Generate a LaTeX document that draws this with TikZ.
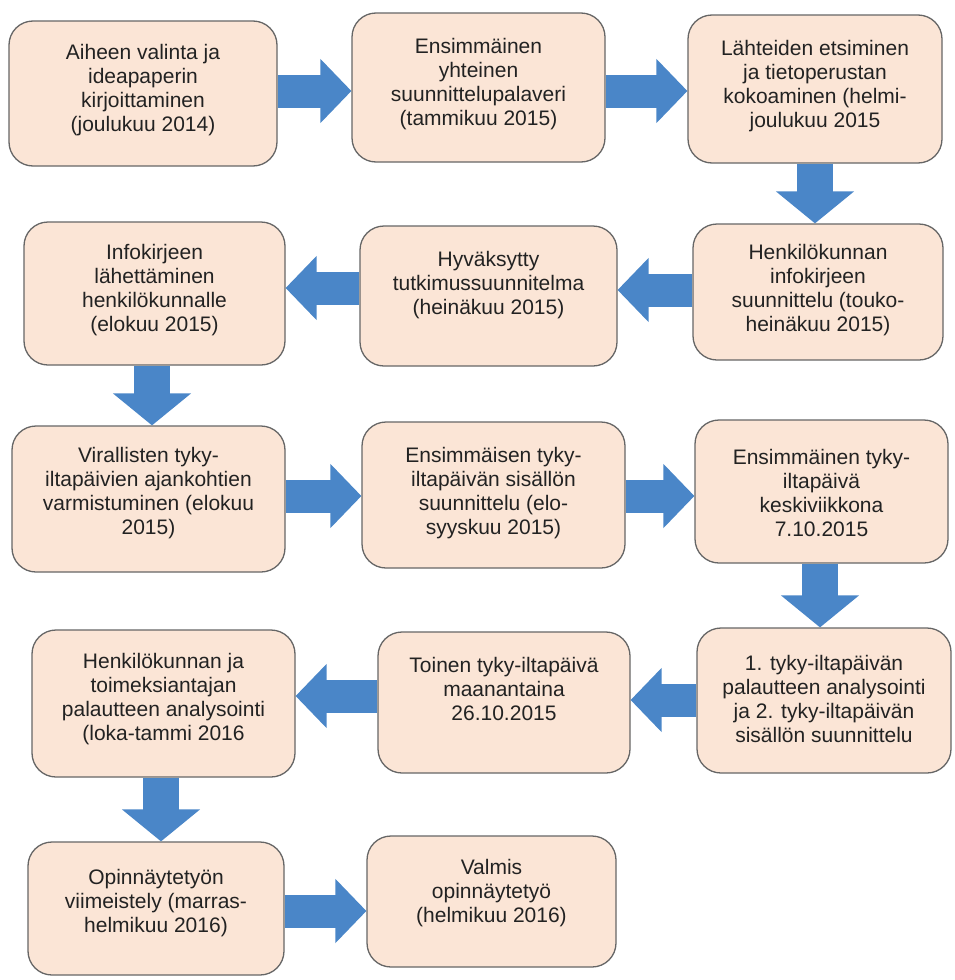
\documentclass[tikz,border=0pt]{standalone}
\usepackage{fontspec}
\setmainfont{Liberation Sans}
\usetikzlibrary{arrows.meta}
\definecolor{boxfill}{HTML}{FBE5D6}
\definecolor{boxline}{HTML}{666666}
\definecolor{arrowblue}{HTML}{4A86C8}
\definecolor{txt}{HTML}{222222}
\begin{document}
\begin{tikzpicture}[x=1pt,y=-1pt,
  box/.style={draw=boxline, fill=boxfill, line width=1.3pt, rounded corners=24pt, inner sep=0pt},
  boxtext/.style={align=center, text=txt, font=\fontsize{21}{24}\selectfont, inner sep=0pt},
  harrow/.style={draw=arrowblue, line width=33pt, -{Triangle[length=31pt,width=64pt,line width=1.5pt]}},
  varrow/.style={draw=arrowblue, line width=36pt, -{Triangle[length=32pt,width=78pt,line width=1.5pt]}}]
\fill[white] (0,0) rectangle (954,980);
\useasboundingbox (0,0) rectangle (954,980);

% boxes
\node[box, minimum width=268pt, minimum height=145pt] (A) at (143,93.5) {};
\node[box, minimum width=253pt, minimum height=149pt] (B) at (478.5,87.5) {};
\node[box, minimum width=254pt, minimum height=148pt] (C) at (815,89) {};
\node[box, minimum width=261pt, minimum height=143pt] (D) at (154.5,293.5) {};
\node[box, minimum width=257pt, minimum height=140pt] (E) at (488.5,296) {};
\node[box, minimum width=250pt, minimum height=136pt] (F) at (818,292) {};
\node[box, minimum width=273pt, minimum height=146pt] (G) at (148.5,499) {};
\node[box, minimum width=263pt, minimum height=146pt] (H) at (493.5,495) {};
\node[box, minimum width=253pt, minimum height=143pt] (I) at (821.5,491.5) {};
\node[box, minimum width=263pt, minimum height=147pt] (J) at (163.5,703.5) {};
\node[box, minimum width=252pt, minimum height=141pt] (K) at (504,702.5) {};
\node[box, minimum width=254pt, minimum height=145pt] (L) at (824,700.5) {};
\node[box, minimum width=256pt, minimum height=133pt] (M) at (156,908.5) {};
\node[box, minimum width=249pt, minimum height=131pt] (N) at (491.5,901.5) {};

% texts
\node[boxtext] (At) at (143,90) {Aiheen valinta ja\\ideapaperin\\kirjoittaminen\\(joulukuu 2014)};
\node[boxtext] (Bt) at (478.5,84) {Ensimmäinen\\yhteinen\\suunnittelupalaveri\\(tammikuu 2015)};
\node[boxtext] (Ct) at (815,86) {Lähteiden etsiminen\\ja tietoperustan\\kokoaminen (helmi-\\joulukuu 2015};
\node[boxtext] (Dt) at (154.5,290) {Infokirjeen\\lähettäminen\\henkilökunnalle\\(elokuu 2015)};
\node[boxtext] (Et) at (488.5,285) {Hyväksytty\\tutkimussuunnitelma\\(heinäkuu 2015)};
\node[boxtext] (Ft) at (818,290) {Henkilökunnan\\infokirjeen\\suunnittelu (touko-\\heinäkuu 2015)};
\node[boxtext] (Gt) at (148.5,493) {Virallisten tyky-\\iltapäivien ajankohtien\\varmistuminen (elokuu\\2015)};
\node[boxtext] (Ht) at (493.5,493) {Ensimmäisen tyky-\\iltapäivän sisällön\\suunnittelu (elo-\\syyskuu 2015)};
\node[boxtext] (It) at (821.5,493) {Ensimmäinen tyky-\\iltapäivä\\keskiviikkona\\7.10.2015};
\node[boxtext] (Jt) at (163.5,699) {Henkilökunnan ja\\toimeksiantajan\\palautteen analysointi\\(loka-tammi 2016};
\node[boxtext] (Kt) at (504,689) {Toinen tyky-iltapäivä\\maanantaina\\26.10.2015};
\node[boxtext] (Lt) at (824,699) {1. tyky-iltapäivän\\palautteen analysointi\\ja 2. tyky-iltapäivän\\sisällön suunnittelu};
\node[boxtext] (Mt) at (156,903) {Opinnäytetyön\\viimeistely (marras-\\helmikuu 2016)};
\node[boxtext] (Nt) at (491.5,893) {Valmis\\opinnäytetyö\\(helmikuu 2016)};

% arrows
\draw[harrow] (A.east |- 0,91) -- (B.west |- 0,91);
\draw[harrow] (B.east |- 0,91) -- (C.west |- 0,91);
\draw[varrow] (C.south -| 815,0) -- (F.north -| 815,0);
\draw[harrow] (F.west |- 0,290) -- (E.east |- 0,290);
\draw[harrow] (E.west |- 0,288) -- (D.east |- 0,288);
\draw[varrow] (D.south -| 152,0) -- (G.north -| 152,0);
\draw[harrow] (G.east |- 0,496) -- (H.west |- 0,496);
\draw[harrow] (H.east |- 0,496) -- (I.west |- 0,496);
\draw[varrow] (I.south -| 820,0) -- (L.north -| 820,0);
\draw[harrow] (L.west |- 0,700) -- (K.east |- 0,700);
\draw[harrow] (K.west |- 0,696) -- (J.east |- 0,696);
\draw[varrow] (J.south -| 161,0) -- (M.north -| 161,0);
\draw[harrow] (M.east |- 0,911) -- (N.west |- 0,911);
\end{tikzpicture}
\end{document}
